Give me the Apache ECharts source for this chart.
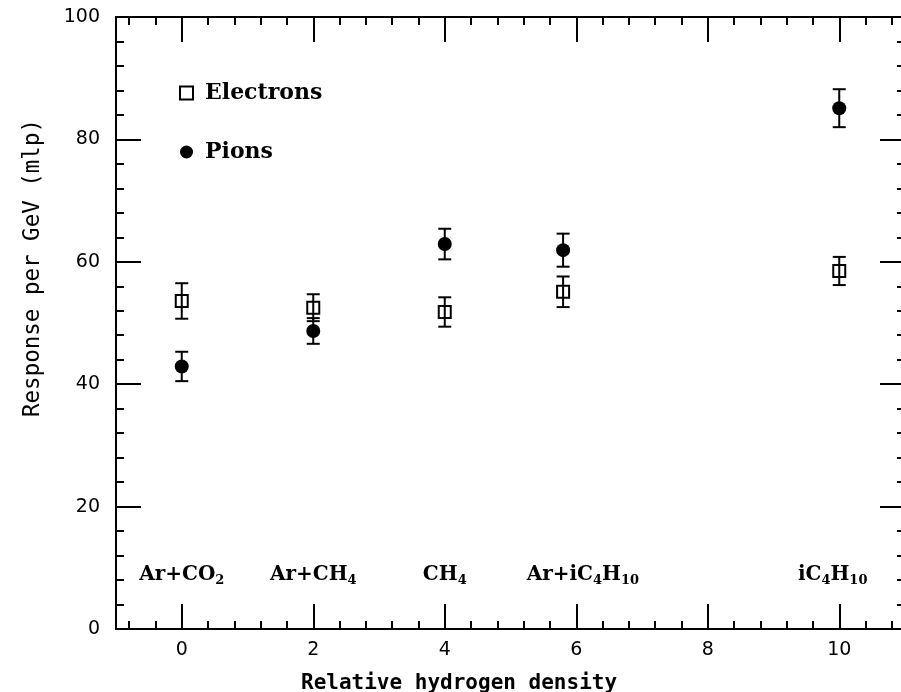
<!DOCTYPE html>
<html>
<head>
<meta charset="utf-8">
<script src="https://cdn.jsdelivr.net/npm/echarts@6/dist/echarts.min.js"></script>
<style>
html,body{margin:0;padding:0;background:#fff;}
#chart{width:901px;height:692px;}
</style>
</head>
<body>
<div id="chart"></div>
<script>
// Relative hydrogen density of each gas mixture
var hydrogen = [0, 2, 4, 5.8, 10];
// Response per GeV (mip) and errors
var electrons = [53.6, 52.5, 51.8, 55.1, 58.5];
var electronErr = [2.9, 2.2, 2.4, 2.5, 2.3];
var pions = [42.9, 48.7, 62.9, 61.9, 85.1];
var pionErr = [2.4, 2.1, 2.5, 2.7, 3.1];
// Gas labels
var gasLabels = ['Ar+CO{s|2}', 'Ar+CH{s|4}', 'CH{s|4}', 'Ar+iC{s|4}H{s|10}', 'iC{s|4}H{s|10}'];
var gasLabelX = [0, 2, 4, 6.1, 9.9];
var gasLabelY = [8.8, 8.8, 8.8, 8.8, 8.8];
// Tick values
var xMajorTicks = [0, 2, 4, 6, 8, 10];
var xMinorTicks = [-0.8, -0.4, 0.4, 0.8, 1.2, 1.6, 2.4, 2.8, 3.2, 3.6, 4.4, 4.8, 5.2, 5.6,
                   6.4, 6.8, 7.2, 7.6, 8.4, 8.8, 9.2, 9.6, 10.4, 10.8];

var FONT_NUM = 'DejaVu Sans';
var FONT_SERIF = 'DejaVu Serif';
var FONT_MONO = 'DejaVu Sans Mono';

function pairs(xs, ys) {
  return xs.map(function (x, i) { return [x, ys[i]]; });
}
function errData(xs, ys, es) {
  return xs.map(function (x, i) { return [x, ys[i] - es[i], ys[i] + es[i]]; });
}

function errRender(params, api) {
  var x = api.value(0);
  var lo = api.coord([x, api.value(1)]);
  var hi = api.coord([x, api.value(2)]);
  var hw = 6.5;
  var st = { stroke: '#000', lineWidth: 2 };
  return {
    type: 'group',
    children: [
      { type: 'line', shape: { x1: lo[0], y1: lo[1], x2: hi[0], y2: hi[1] }, style: st },
      { type: 'line', shape: { x1: lo[0] - hw, y1: lo[1], x2: lo[0] + hw, y2: lo[1] }, style: st },
      { type: 'line', shape: { x1: hi[0] - hw, y1: hi[1], x2: hi[0] + hw, y2: hi[1] }, style: st }
    ]
  };
}

var axisLineStyle = { color: '#000', width: 2 };

function xAxisDef(pos, ticks, len, showLabel) {
  return {
    type: 'value', position: pos, min: -1, max: 11,
    axisLine: { show: true, onZero: false, lineStyle: axisLineStyle },
    axisTick: { show: true, inside: true, length: len, customValues: ticks, lineStyle: { color: '#000', width: 2 } },
    axisLabel: showLabel ? { show: true, customValues: ticks, fontSize: 19, fontFamily: FONT_NUM, color: '#000', margin: 12 } : { show: false },
    splitLine: { show: false }
  };
}
function yAxisDef(pos, showLabel) {
  return {
    type: 'value', position: pos, min: 0, max: 100, interval: 20,
    axisLine: { show: true, onZero: false, lineStyle: axisLineStyle },
    axisTick: { show: true, inside: true, length: 25, lineStyle: { color: '#000', width: 2 } },
    minorTick: { show: true, splitNumber: 5, length: 8, lineStyle: { color: '#000', width: 2 } },
    axisLabel: showLabel ? { show: true, fontSize: 19, fontFamily: FONT_NUM, color: '#000', margin: 16 } : { show: false },
    splitLine: { show: false },
    minorSplitLine: { show: false }
  };
}

var chart = echarts.init(document.getElementById('chart'), null, { renderer: 'canvas' });
chart.setOption({
  backgroundColor: '#fff',
  animation: false,
  grid: { left: 116, width: 789, top: 17, height: 612, containLabel: false, outerBoundsMode: 'none' },
  title: {
    text: 'Relative hydrogen density',
    left: 296, top: 668,
    textStyle: { fontFamily: FONT_MONO, fontSize: 21, fontWeight: 'bold', color: '#000' }
  },
  graphic: [{
    type: 'text', x: 33, y: 268, rotation: Math.PI / 2,
    style: { text: 'Response per GeV (mlp)', fontFamily: FONT_MONO, fontSize: 22.5, fill: '#000', align: 'center', verticalAlign: 'middle' }
  }],
  legend: {
    data: ['Electrons', 'Pions'],
    orient: 'vertical', left: 174, top: 77,
    itemWidth: 13, itemHeight: 13, itemGap: 37,
    textStyle: { fontFamily: FONT_SERIF, fontSize: 22, fontWeight: 'bold', color: '#000', padding: [0, 0, 0, 7] }
  },
  xAxis: [
    xAxisDef('bottom', xMajorTicks, 25, true),
    xAxisDef('bottom', xMinorTicks, 8, false),
    xAxisDef('top', xMajorTicks, 25, false),
    xAxisDef('top', xMinorTicks, 8, false)
  ],
  yAxis: [yAxisDef('left', true), yAxisDef('right', false)],
  series: [
    {
      name: 'Electrons', type: 'scatter', symbol: 'rect', symbolSize: 12,
      itemStyle: { color: '#fff', borderColor: '#000', borderWidth: 2, opacity: 1 },
      data: pairs(hydrogen, electrons), z: 3
    },
    {
      name: 'Pions', type: 'scatter', symbol: 'circle', symbolSize: 14,
      itemStyle: { color: '#000', opacity: 1 },
      data: pairs(hydrogen, pions), z: 3
    },
    { type: 'custom', renderItem: errRender, data: errData(hydrogen, electrons, electronErr), z: 4, silent: true },
    { type: 'custom', renderItem: errRender, data: errData(hydrogen, pions, pionErr), z: 4, silent: true },
    {
      type: 'scatter', symbolSize: 0, silent: true,
      itemStyle: { opacity: 1 },
      data: gasLabelX.map(function (x, i) { return { value: [x, gasLabelY[i]], name: gasLabels[i] }; }),
      label: {
        show: true, position: 'inside', formatter: function (p) { return p.name; },
        fontFamily: FONT_SERIF, fontSize: 20, fontWeight: 'bold', color: '#000', lineHeight: 24,
        rich: { s: { fontFamily: FONT_SERIF, fontSize: 13, fontWeight: 'bold', color: '#000', verticalAlign: 'bottom', lineHeight: 24 } }
      }
    }
  ]
});
</script>
</body>
</html>
